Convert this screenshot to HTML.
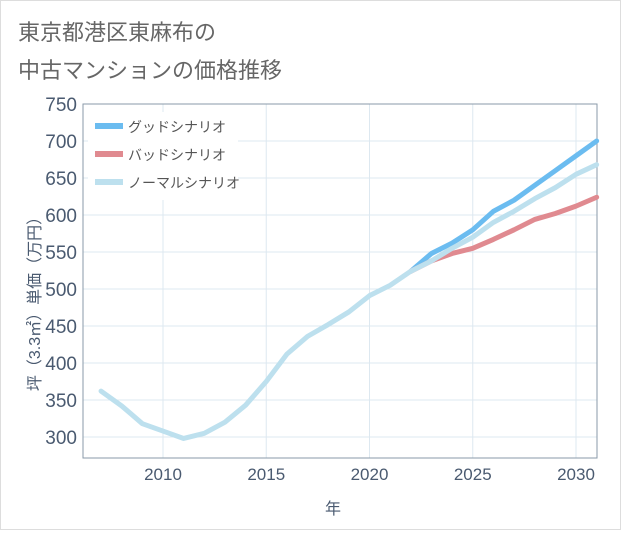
<!DOCTYPE html>
<html><head><meta charset="utf-8"><style>
body{margin:0;background:#fff;font-family:"Liberation Sans","Noto Sans CJK JP",sans-serif}
</style></head><body>
<svg width="621" height="530" xmlns="http://www.w3.org/2000/svg">
<rect x="0.5" y="0.5" width="620" height="529" fill="#fff" stroke="#ddd"/>
<text x="18" y="40" font-size="22" fill="#666">東京都港区東麻布の</text>
<text x="18" y="78" font-size="22" fill="#666">中古マンションの価格推移</text>
<g id="grid"></g>
<g id="yt"></g><g id="xt"></g>
<rect x="83" y="104" width="514" height="354" fill="none" stroke="#8a9aa8"/>
<g id="lines"></g>
<g id="legend"></g>
<text transform="translate(40,300) rotate(-90)" text-anchor="middle" font-size="16" fill="#4a5a70">坪（3.3㎡）単価（万円）</text>
<text x="333" y="514" text-anchor="middle" font-size="16" fill="#4a5a70">年</text>
</svg>
<script>
const yTicks=[300,350,400,450,500,550,600,650,700,750];
const xTicks=[2010,2015,2020,2025,2030];
const normalYears=[2007,2008,2009,2010,2011,2012,2013,2014,2015,2016,2017,2018,2019,2020,2021,2022,2023,2024,2025,2026,2027,2028,2029,2030,2031];
const normalVals=[362,342,318,308,298,305,320,343,375,412,436,452,469,491,505,524,538,555,570,590,605,622,637,655,668];
const scenYears=[2022,2023,2024,2025,2026,2027,2028,2029,2030,2031];
const goodVals=[524,548,562,580,605,620,640,660,680,700];
const badVals=[524,538,548,555,567,580,594,602,612,624];
const X=v=>163+(v-2010)*20.65, Y=v=>104+(750-v)*0.74;
const NS="http://www.w3.org/2000/svg";
function mk(t,a,p){const e=document.createElementNS(NS,t);for(const k in a)e.setAttribute(k,a[k]);p.appendChild(e);return e;}
const grid=document.getElementById('grid'),yt=document.getElementById('yt'),xt=document.getElementById('xt');
yTicks.forEach(v=>{const l=mk('line',{x1:83,x2:597,y1:Y(v),y2:Y(v),stroke:'#dde8f0'},grid);


const t=mk('text',{x:77,y:Y(v)+7,'text-anchor':'end','font-size':19,fill:'#4a5a70'},yt);t.textContent=v;

});
xTicks.forEach(v=>{const l=mk('line',{x1:X(v),x2:X(v),y1:104,y2:458,stroke:'#dde8f0'},grid);


const t=mk('text',{x:X(v),y:480,'text-anchor':'middle','font-size':17,fill:'#4a5a70'},xt);t.textContent=v;

});
const lines=document.getElementById('lines');
function line(ys,vs,c,n){const p=mk('polyline',{points:ys.map((y,i)=>X(y)+','+Y(vs[i])).join(' '),fill:'none',stroke:c,'stroke-width':5,'stroke-linejoin':'round','stroke-linecap':'round'},lines);

}
line(scenYears,goodVals,'#6bbcf0','good-scenario-line');
line(scenYears,badVals,'#e08a90','bad-scenario-line');
line(normalYears,normalVals,'#bde0ee','normal-scenario-line');
const lg=document.getElementById('legend');
mk('rect',{x:88,y:112,width:150,height:88,fill:'#fff'},lg);
[['グッドシナリオ','#6bbcf0'],['バッドシナリオ','#e08a90'],['ノーマルシナリオ','#bde0ee']].forEach((d,i)=>{
const g=mk('g',{},lg);


mk('rect',{x:95,y:123+i*28,width:28,height:6,fill:d[1]},g);
const t=mk('text',{x:128,y:132+i*28,'font-size':14,fill:'#555'},g);t.textContent=d[0];});
</script>
</body></html>
